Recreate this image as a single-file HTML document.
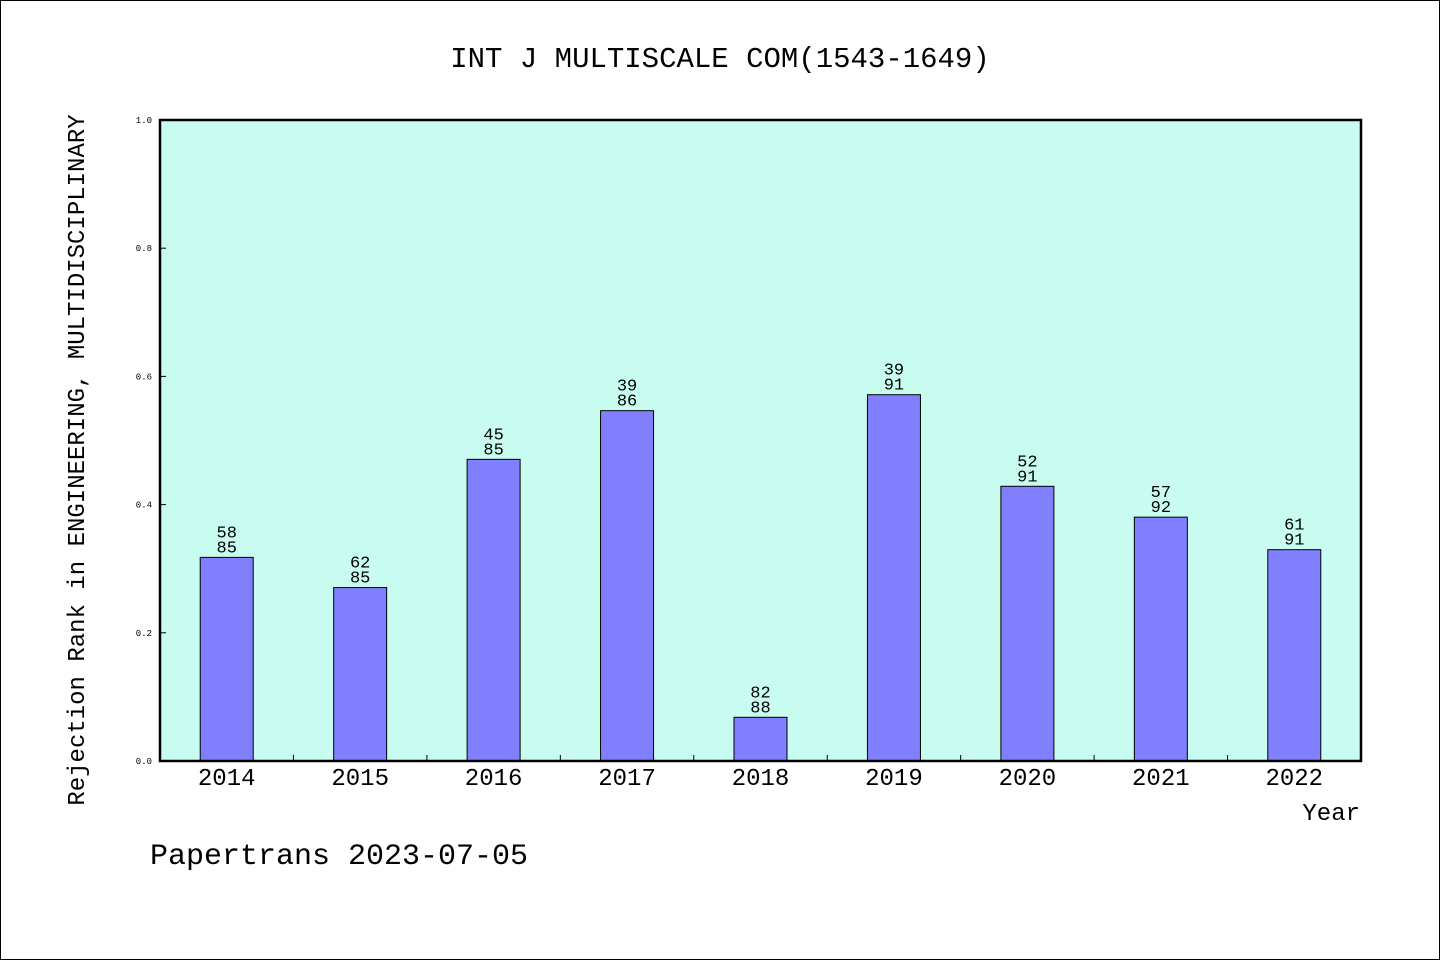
<!DOCTYPE html>
<html><head><meta charset="utf-8"><style>
html,body{margin:0;padding:0;background:#fff;}
svg text{font-family:"Liberation Mono","WenQuanYi Zen Hei",monospace;fill:#000;}
</style></head><body>
<svg id="chart" width="1440" height="960" xmlns="http://www.w3.org/2000/svg">
<rect x="0.5" y="0.5" width="1439" height="959" fill="#fff" stroke="#000"/>
<text x="720" y="67" font-size="29" text-anchor="middle">INT J MULTISCALE COM(1543-1649)</text>
<rect x="160" y="120" width="1201" height="641" fill="#c8fcf0"/>
<g id="marks"></g>
<rect x="160" y="120" width="1201" height="641" fill="none" stroke="#000" stroke-width="2.5"/>
<text x="1360" y="820" font-size="24" text-anchor="end">Year</text>
<text transform="translate(84,460) rotate(-90)" font-size="24" text-anchor="middle">Rejection Rank in ENGINEERING, MULTIDISCIPLINARY</text>
<text x="150" y="864" font-size="30">Papertrans 2023-07-05</text>
</svg>
<script>
const years = ["2014","2015","2016","2017","2018","2019","2020","2021","2022"];
const ranks = [58,62,45,39,82,39,52,57,61];
const totals = [85,85,85,86,88,91,91,92,91];
const yTicks = [0,0.2,0.4,0.6,0.8,1.0];
const yTickLabels = ["0.0","0.2","0.4","0.6","0.8","1.0"];

const NS="http://www.w3.org/2000/svg";
const X0=160,X1=1361,Y0=761,Y1=120;
const band=(X1-X0)/years.length;
function xc(i){return X0+band*(i+0.5);}
function ys(v){return Y0-(Y0-Y1)*v;}
const g=document.getElementById('marks');
function mk(tag,attrs){const e=document.createElementNS(NS,tag);for(const k in attrs)e.setAttribute(k,attrs[k]);g.appendChild(e);return e;}

yTicks.forEach((v,i)=>{
  const t=mk('line',{x1:X0,x2:X0+6,y1:ys(v),y2:ys(v),stroke:'#000','stroke-width':1});
  
  
  const l=mk('text',{x:X0-8,y:ys(v)+3,'font-size':9,'text-anchor':'end'});
  l.textContent=yTickLabels[i];
  
  
});
for(let i=1;i<years.length;i++){
  const t=mk('line',{x1:X0+band*i,x2:X0+band*i,y1:Y0,y2:Y0-6,stroke:'#000','stroke-width':1});
  
  
}
const bw=53;
years.forEach((yr,i)=>{
  const v=1-ranks[i]/totals[i];
  const top=ys(v);
  const b=mk('rect',{x:xc(i)-bw/2,y:top,width:bw,height:Y0-top,fill:'#8080ff',stroke:'#000','stroke-width':1});
  
  
  const t1=mk('text',{x:xc(i),y:top-20,'font-size':17,'text-anchor':'middle'});
  t1.textContent=ranks[i];
  
  
  const t2=mk('text',{x:xc(i),y:top-5,'font-size':17,'text-anchor':'middle'});
  t2.textContent=totals[i];
  
  
  const xl=mk('text',{x:xc(i),y:785,'font-size':24,'text-anchor':'middle'});
  xl.textContent=yr;
  
  
});
</script>
</body></html>
